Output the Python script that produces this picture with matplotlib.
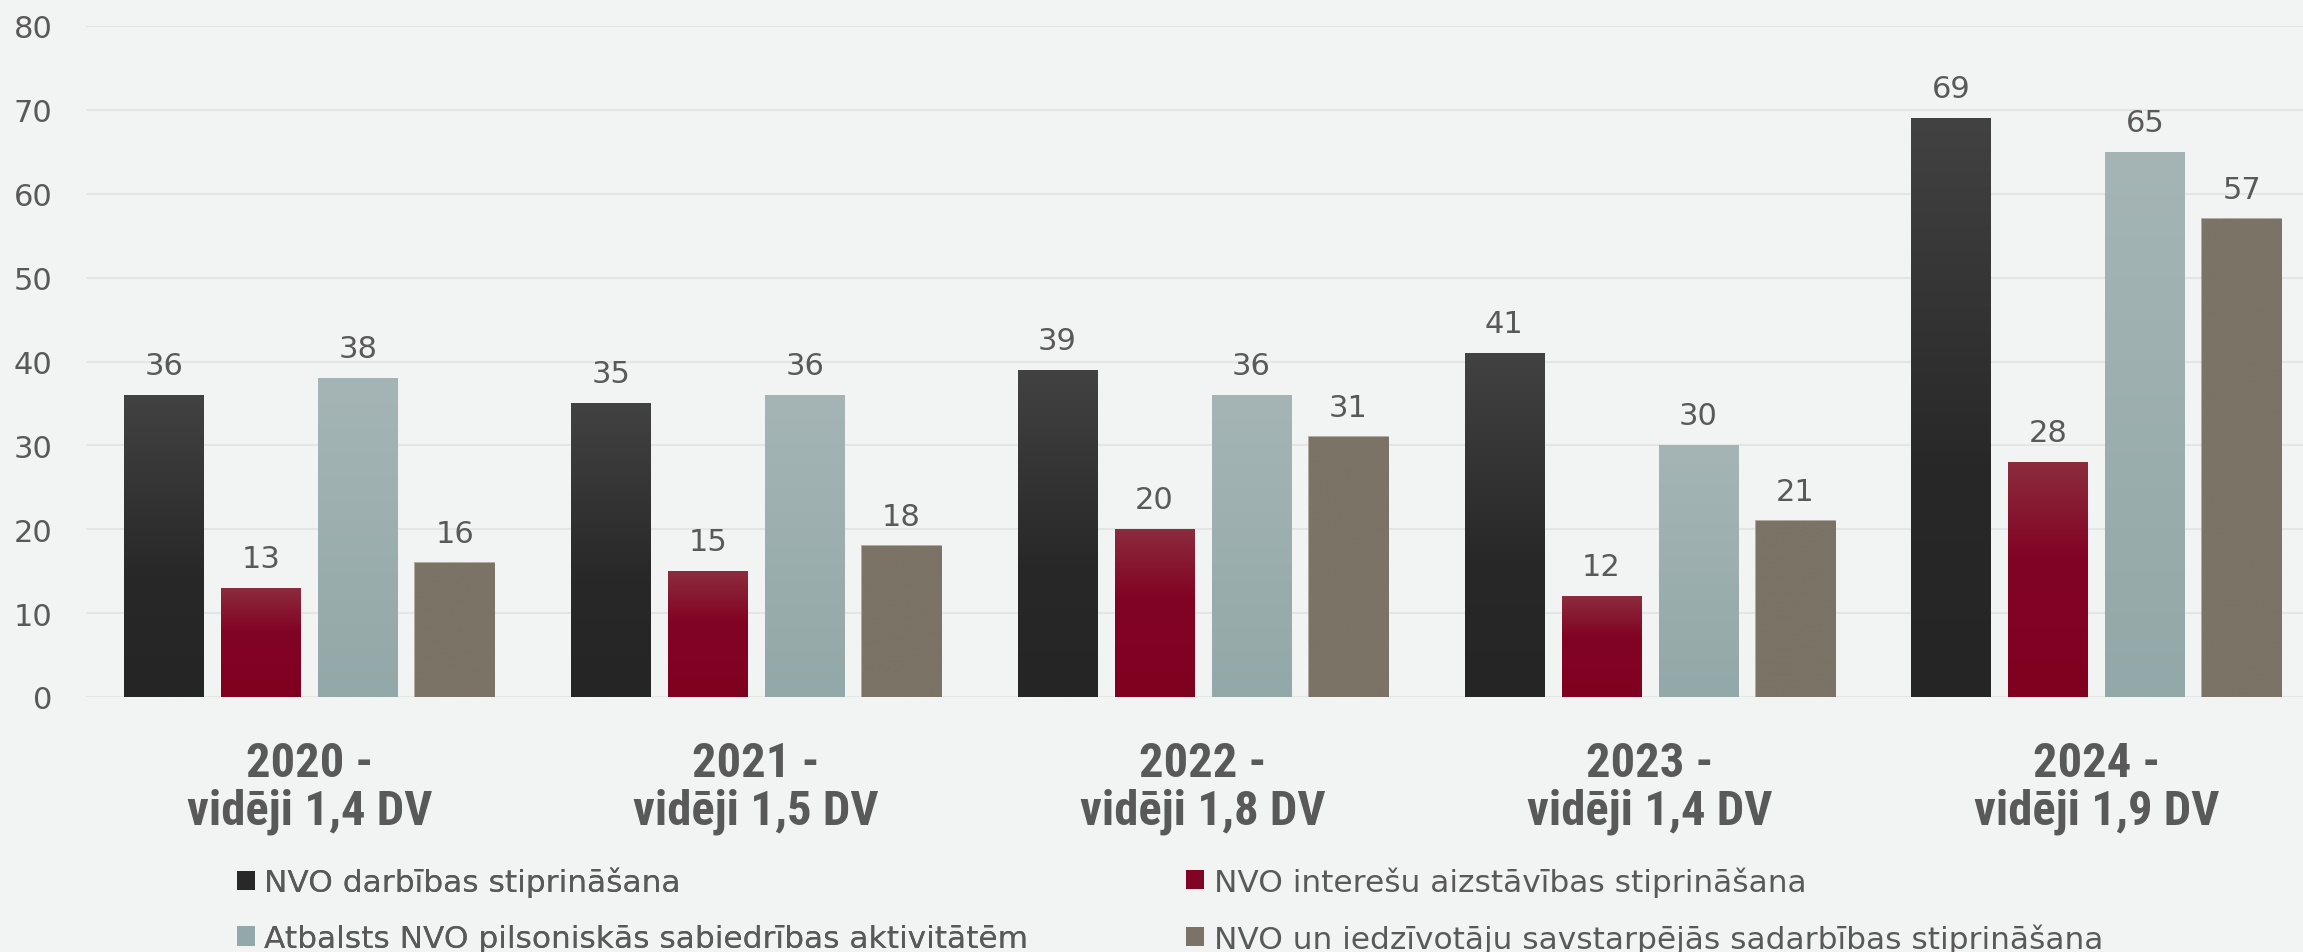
import numpy as np
import matplotlib.pyplot as plt
from matplotlib.colors import LinearSegmentedColormap
from matplotlib.patches import Patch

categories = ["2020 -\nvidēji 1,4 DV", "2021 -\nvidēji 1,5 DV", "2022 -\nvidēji 1,8 DV",
              "2023 -\nvidēji 1,4 DV", "2024 -\nvidēji 1,9 DV"]
series_names = ["NVO darbības stiprināšana",
                "NVO interešu aizstāvības stiprināšana",
                "Atbalsts NVO pilsoniskās sabiedrības aktivitātēm",
                "NVO un iedzīvotāju savstarpējās sadarbības stiprināšana"]
darbibas = [36, 35, 39, 41, 69]
interesu = [13, 15, 20, 12, 28]
atbalsts = [38, 36, 36, 30, 65]
sadarbiba = [16, 18, 31, 21, 57]
y_ticks = [0, 10, 20, 30, 40, 50, 60, 70, 80]

# gradient stops (top -> bottom) per series
grads = [
    [(0.0, "#424242"), (0.6, "#282828"), (1.0, "#252525")],
    [(0.0, "#8c2c3d"), (0.4, "#820424"), (1.0, "#800020")],
    [(0.0, "#a5b5b5"), (1.0, "#93a8a8")],
    [(0.0, "#7b7366"), (1.0, "#7b7366")],
]
edges = ["none", "none", "none", "#a39d93"]

bg = "#f2f4f3"
txt = "#595959"
W, H = 2303, 953

fig = plt.figure(figsize=(W / 100, H / 100), dpi=100, facecolor=bg)
ax = fig.add_axes([86 / W, 255 / H, 2233.75 / W, 671 / H])
ax.set_facecolor(bg)

x = np.arange(len(categories))
pitch = 0.217
width = 0.177
all_vals = [darbibas, interesu, atbalsts, sadarbiba]

handles = []
for i, vals in enumerate(all_vals):
    cmap = LinearSegmentedColormap.from_list(f"g{i}", grads[i])
    bars = ax.bar(x + (i - 1.5) * pitch, vals, width, color=grads[i][-1][1],
                  edgecolor=edges[i], linewidth=1.2, zorder=2)
    grad = np.linspace(0, 1, 256).reshape(-1, 1)
    for b in bars:
        bx, by = b.get_x(), b.get_y()
        bw, bh = b.get_width(), b.get_height()
        im = ax.imshow(grad, extent=[bx, bx + bw, by, by + bh], origin="upper",
                       cmap=cmap, aspect="auto", zorder=2.1)
        im.set_clip_path(b)
        ax.annotate(f"{bh:.0f}", (bx + bw / 2, by + bh), xytext=(0, 11),
                    textcoords="offset points", ha="center", va="bottom",
                    fontsize=22, color=txt, zorder=3)
    handles.append(Patch(facecolor=grads[i][len(grads[i]) // 2][1], edgecolor="none"))

ax.set_xlim(-0.5, 4.5)
ax.set_ylim(0, 80)
ax.set_yticks(y_ticks)
ax.set_xticks(x)
ax.set_xticklabels(categories, fontsize=35, fontweight="bold", color=txt,
                   family=["Roboto Condensed", "Liberation Sans"], linespacing=1.04)
ax.tick_params(axis="x", length=0, pad=31)
ax.tick_params(axis="y", length=0, pad=24, labelsize=22, labelcolor=txt)
ax.grid(axis="y", color="#e4e6e5", linewidth=1.5, zorder=0)
ax.set_axisbelow(True)
for s in ax.spines.values():
    s.set_visible(False)

leg_kw = dict(loc="center left", frameon=False, fontsize=22.5, labelcolor=txt,
              handlelength=0.58, handleheight=0.58, handletextpad=0.3,
              labelspacing=0.85, borderaxespad=0, borderpad=0)
leg1 = fig.legend([handles[0], handles[2]], [series_names[0], series_names[2]],
                  bbox_to_anchor=(237 / W, 1 - 911 / H), **leg_kw)
fig.add_artist(leg1)
fig.legend([handles[1], handles[3]], [series_names[1], series_names[3]],
           bbox_to_anchor=(1186 / W, 1 - 911 / H), **leg_kw)

fig.savefig("out.png", dpi=100, facecolor=bg)
